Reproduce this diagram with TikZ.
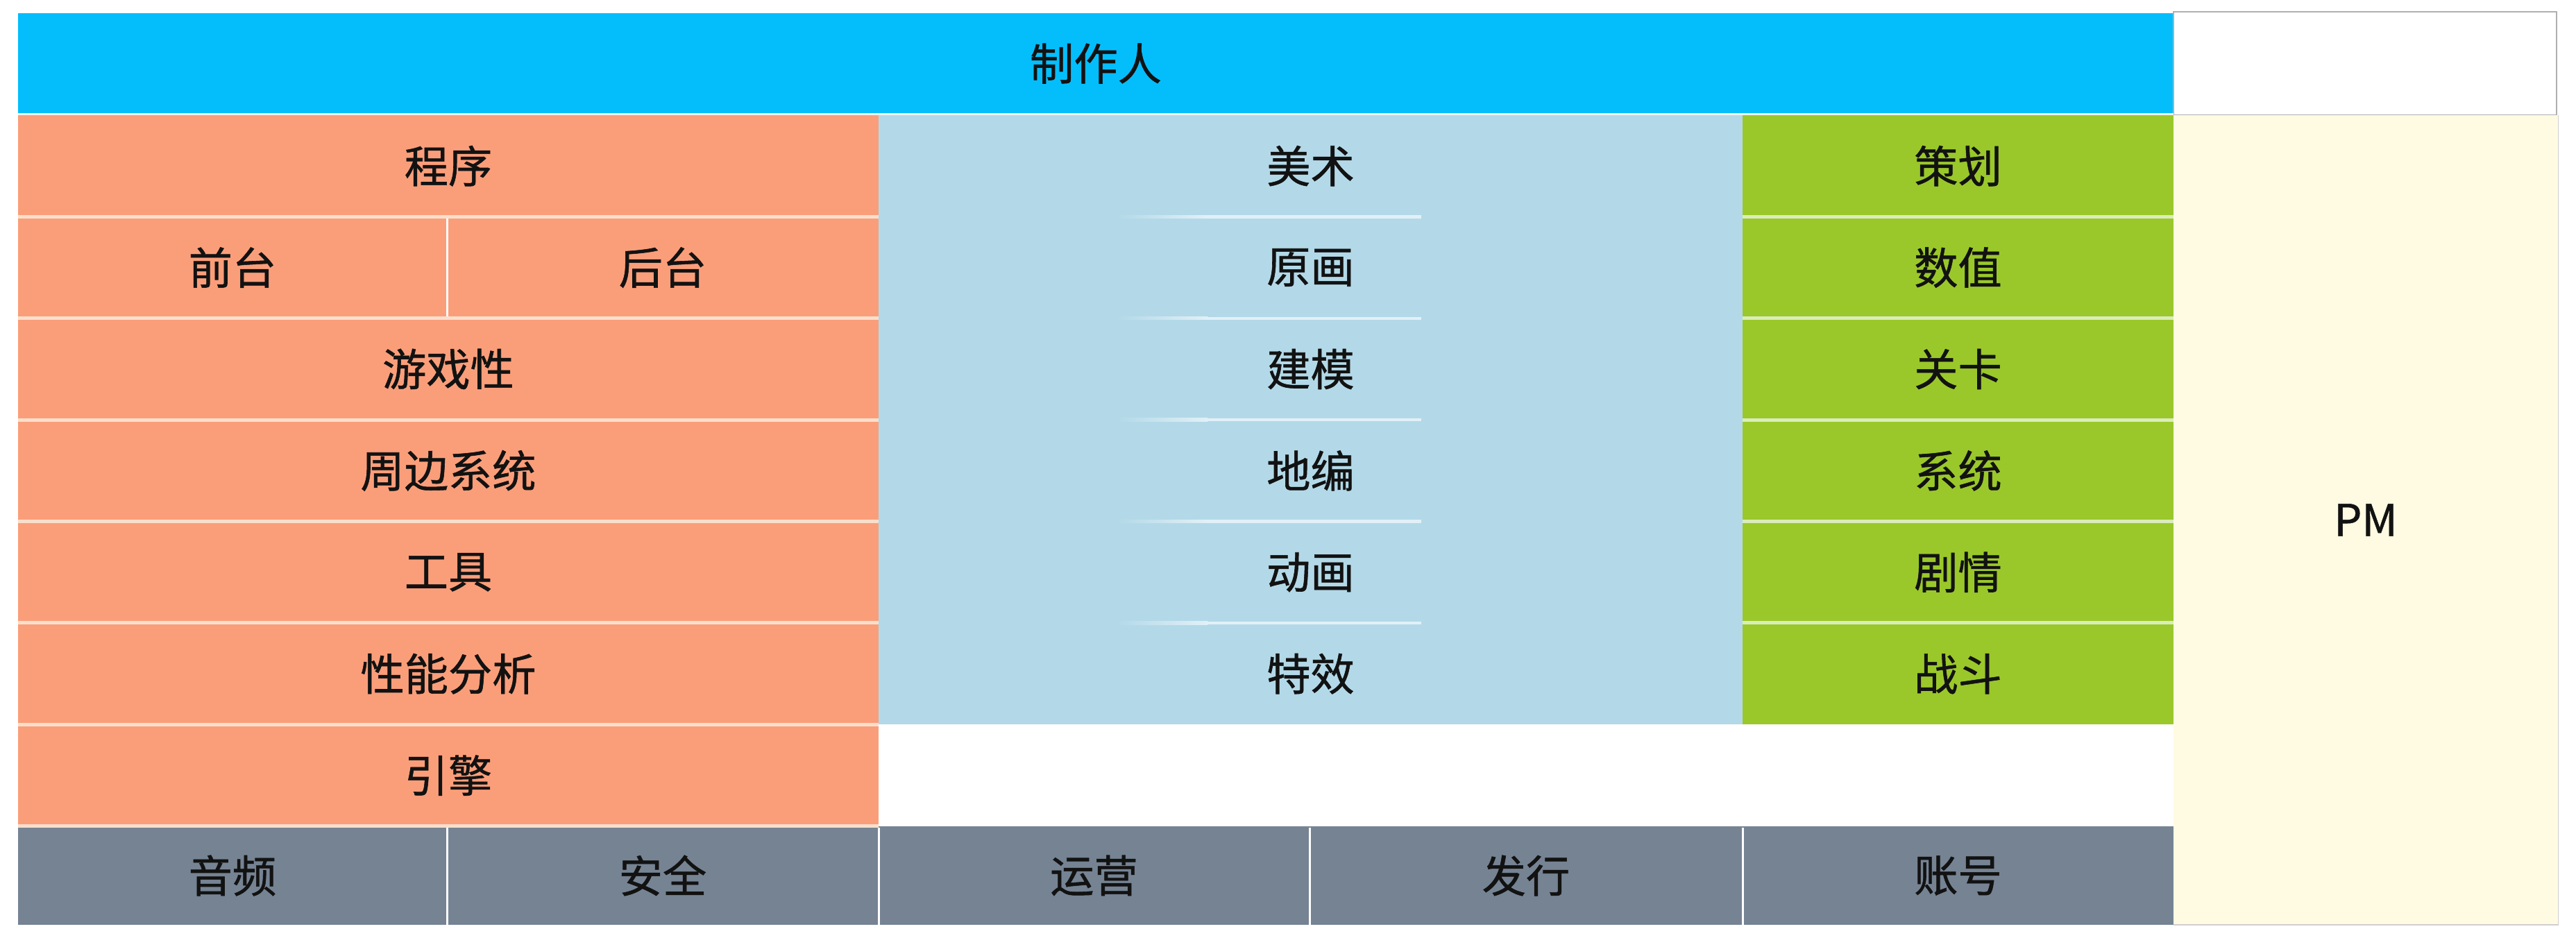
\documentclass[tikz,border=0pt]{standalone}
\usepackage{fontspec}
\setmainfont{Noto Sans CJK SC}[FakeBold=0.9]
\definecolor{hdrblue}{RGB}{4,190,252}
\definecolor{orangec}{RGB}{250,158,122}
\definecolor{lblue}{RGB}{179,217,232}
\definecolor{greenc}{RGB}{154,200,42}
\definecolor{grayc}{RGB}{117,131,147}
\definecolor{creamc}{RGB}{255,251,226}
\definecolor{txtc}{RGB}{18,18,18}
\definecolor{sepO}{RGB}{250,222,204}
\definecolor{sepG}{RGB}{218,236,186}
\definecolor{sepB}{RGB}{226,240,247}
\definecolor{boxedge}{RGB}{175,175,175}
\begin{document}
\begin{tikzpicture}[
  cell/.style={rectangle, inner sep=0pt, outer sep=0pt, draw=none, text=txtc,
    font=\fontsize{18pt}{20pt}\selectfont},
  full/.style={cell, minimum width=12.40cm, minimum height=1.464cm},
  half/.style={cell, minimum width=6.20cm, minimum height=1.464cm},
  art/.style={cell, fill=lblue, minimum width=12.45cm, minimum height=1.464cm},
  plan/.style={cell, fill=greenc, minimum width=6.21cm, minimum height=1.464cm},
  base/.style={cell, fill=grayc, minimum width=6.22cm, minimum height=1.42cm},
  sepo/.style={draw=sepO, line width=0.05cm},
  sepg/.style={draw=sepG, line width=0.05cm},
  sepw/.style={draw=white, line width=0.03cm},
]
\useasboundingbox[fill=white] (0,0) rectangle (37.12,-13.52);

% header
\node[cell, fill=hdrblue, minimum width=31.06cm, minimum height=1.45cm] (hdr) at (15.79,-0.915) {制作人};
\node[cell, draw=boxedge, line width=0.4pt, fill=white, minimum width=5.52cm, minimum height=1.49cm] (corner) at (34.08,-0.915) {};
\node[cell, fill=creamc, minimum width=5.54cm, minimum height=11.67cm] (pm) at (34.09,-7.495) {PM};

% programming column
\node[full, fill=orangec] (prog) at (6.46,-2.392) {程序};
\node[half, fill=orangec, minimum width=6.18cm] (front) at (3.35,-3.856) {前台};
\node[half, fill=orangec, minimum width=6.22cm] (back) at (9.55,-3.856) {后台};
\node[full, fill=orangec] (game) at (6.46,-5.320) {游戏性};
\node[full, fill=orangec] (peri) at (6.46,-6.784) {周边系统};
\node[full, fill=orangec] (tool) at (6.46,-8.248) {工具};
\node[full, fill=orangec] (perf) at (6.46,-9.712) {性能分析};
\node[full, fill=orangec] (eng) at (6.46,-11.176) {引擎};

% art column
\node[art] (arts) at (18.885,-2.392) {美术};
\node[art] (conc) at (18.885,-3.856) {原画};
\node[art] (model) at (18.885,-5.320) {建模};
\node[art] (level) at (18.885,-6.784) {地编};
\node[art] (anim) at (18.885,-8.248) {动画};
\node[art] (vfx) at (18.885,-9.712) {特效};

% design column
\node[plan] (des) at (28.215,-2.392) {策划};
\node[plan] (num) at (28.215,-3.856) {数值};
\node[plan] (lvl) at (28.215,-5.320) {关卡};
\node[plan] (sys) at (28.215,-6.784) {系统};
\node[plan] (story) at (28.215,-8.248) {剧情};
\node[plan] (fight) at (28.215,-9.712) {战斗};

% bottom row
\node[base, minimum width=6.18cm] (audio) at (3.35,-12.62) {音频};
\node[base] (sec) at (9.55,-12.62) {安全};
\node[base, minimum width=6.21cm] (ops) at (15.765,-12.62) {运营};
\node[base, minimum width=6.24cm] (pub) at (21.99,-12.62) {发行};
\node[base, minimum width=6.21cm] (acc) at (28.215,-12.62) {账号};

% separators
\draw[sepw, draw=white!85!lblue] (0.26,-1.645) -- (31.32,-1.645);
\foreach \y in {3.124,4.588,6.052,7.516,8.98,10.444,11.908}
  \draw[sepo] (0.26,-\y) -- (12.66,-\y);
\draw[sepw] (6.44,-3.15) -- (6.44,-4.56);
\foreach \y in {3.124,4.588,6.052,7.516,8.98}{
  \draw[sepg] (25.11,-\y) -- (31.32,-\y);
  \shade[left color=lblue, right color=sepB] (16.1,-\y-0.022) rectangle (17.4,-\y+0.022);
  \fill[sepB] (17.4,-\y-0.022) rectangle (20.48,-\y+0.022);
}
\foreach \x in {6.44,12.66,18.87,25.11}
  \draw[sepw] (\x,-11.93) -- (\x,-13.33);
\draw[boxedge!60, line width=0.3pt] (31.32,-13.33) -- (36.86,-13.33) -- (36.86,-1.66);
\end{tikzpicture}
\end{document}
